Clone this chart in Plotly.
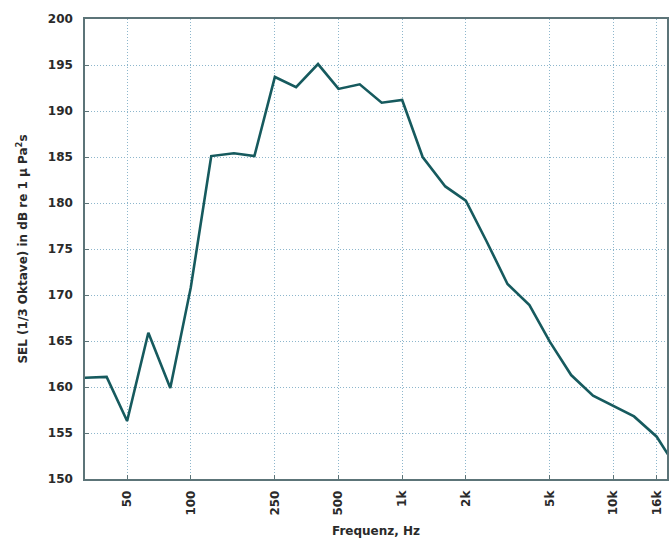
import numpy as np
import plotly.graph_objects as go

# Third-octave band centre frequencies (Hz)
freq_hz = [31.5, 40, 50, 63, 80, 100, 125, 160, 200, 250, 315, 400, 500, 630, 800,
           1000, 1250, 1600, 2000, 2500, 3150, 4000, 5000, 6300, 8000, 10000,
           12500, 16000, 20000]

# Sound exposure level per band, dB re 1 µPa²s
sel_db = [161.0, 161.1, 156.3, 165.9, 159.9, 170.8, 185.1, 185.4, 185.1, 193.7,
          192.6, 195.1, 192.4, 192.9, 190.9, 191.2, 185.0, 181.8, 180.25, 175.9,
          171.2, 168.9, 164.9, 161.3, 159.05, 157.9, 156.8, 154.6, 151.1]

x_tick_vals = [50, 100, 250, 500, 1000, 2000, 5000, 10000, 16000]
x_tick_text = ["50", "100", "250", "500", "1k", "2k", "5k", "10k", "16k"]
y_tick_vals = [150, 155, 160, 165, 170, 175, 180, 185, 190, 195, 200]

font_family = "DejaVu Sans, Verdana, sans-serif"
text_color = "#2a2a2a"
grid_color = "#8db6cc"
axis_color = "#5c7478"

label_font = dict(family=font_family, size=12, color=text_color, weight="bold")

fig = go.Figure()
fig.add_trace(go.Scatter(
    x=freq_hz, y=sel_db, mode="lines",
    line=dict(color="#165a5e", width=2.6),
    showlegend=False,
))

fig.update_layout(
    width=669, height=538,
    margin=dict(l=85, r=0, t=19, b=59),
    paper_bgcolor="white", plot_bgcolor="white",
    font=label_font,
)

fig.update_xaxes(
    type="log",
    range=[np.log10(31.6), np.log10(17900)],
    tickvals=x_tick_vals, ticktext=x_tick_text,
    tickangle=-90,
    tickfont=label_font,
    ticks="inside", ticklen=4, tickcolor=axis_color,
    ticklabelstandoff=5,
    showgrid=True, gridcolor=grid_color, griddash="1px,2px", gridwidth=1,
    showline=True, linecolor=axis_color, linewidth=1.5, mirror=True,
    zeroline=False,
    title=dict(text="Frequenz, Hz", font=label_font, standoff=12),
)

fig.update_yaxes(
    range=[150, 200],
    tickvals=y_tick_vals,
    tickfont=label_font,
    ticks="inside", ticklen=4, tickcolor=axis_color,
    ticklabelstandoff=8,
    showgrid=True, gridcolor=grid_color, griddash="1px,2px", gridwidth=1,
    showline=True, linecolor=axis_color, linewidth=1.5, mirror=True,
    zeroline=False,
    title=dict(text="SEL (1/3 Oktave) in dB re 1 µ Pa<sup>2</sup>s",
               font=label_font, standoff=18),
)

fig.write_html("out.html")
